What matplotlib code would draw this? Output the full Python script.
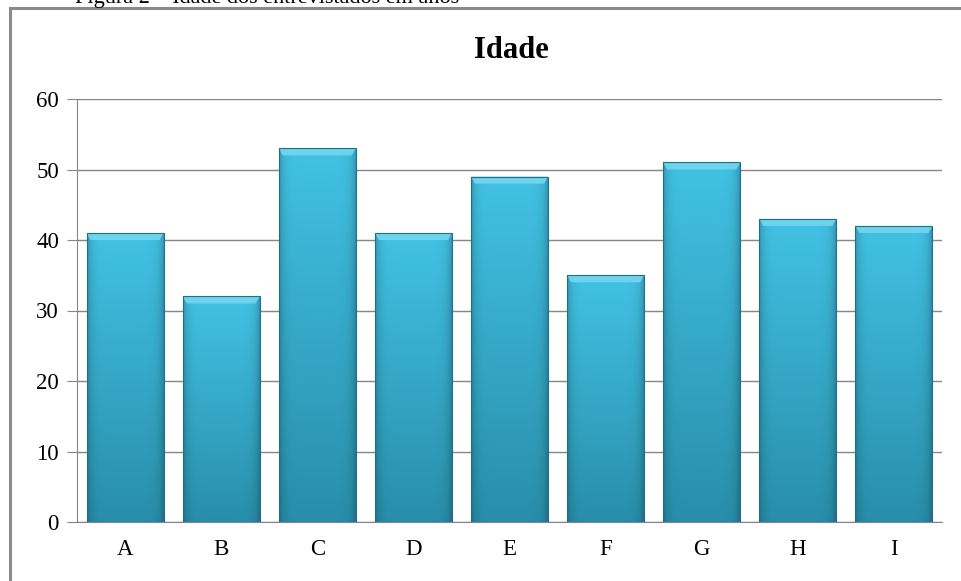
import numpy as np
import matplotlib.pyplot as plt
from matplotlib.patches import Rectangle, Polygon

categorias = ['A', 'B', 'C', 'D', 'E', 'F', 'G', 'H', 'I']
idades = [41, 32, 53, 41, 49, 35, 51, 43, 42]

plt.rcParams['font.family'] = ['Liberation Serif', 'DejaVu Serif']

fig = plt.figure(figsize=(9.62, 5.81), dpi=100)
ax = fig.add_axes([77 / 962, 1 - 522 / 581, (942 - 77) / 962, (522 - 99) / 581])

# moldura do grafico e legenda cortada acima
fig.patches.append(Rectangle((10 / 962, -0.05), 1.0, 1 - 8 / 581 + 0.05,
                             transform=fig.transFigure, fill=False,
                             edgecolor='#8a8a8a', linewidth=2.2))
fig.text(75 / 962, 1 - 3 / 581, 'Figura 2 – Idade dos entrevistados em anos',
         fontsize=16, va='baseline', ha='left', color='black')

x = np.arange(len(categorias))
largura = 0.8
barras = ax.bar(x, idades, width=largura, color='none', edgecolor='#1f6f85',
                linewidth=0.8, zorder=3)

# gradiente das barras
topo = np.array([0x42, 0xc2, 0xe4]) / 255
base = np.array([0x28, 0x8e, 0xaa]) / 255
ny, nx = 200, 60
t = np.linspace(0, 1, ny)[:, None, None]
u = np.linspace(-1, 1, nx)[None, :, None]
grad = topo * (1 - t) + base * t
sombra = 1 - 0.2 * np.abs(u) ** 8
img = np.clip(grad * sombra, 0, 1)

bev = 1.0
bw = 0.04
for b in barras:
    x0, w, h = b.get_x(), b.get_width(), b.get_height()
    im = ax.imshow(img, extent=[x0, x0 + w, 0, h], aspect='auto', zorder=2,
                   interpolation='bilinear')
    clip = Rectangle((x0, 0), w, h, transform=ax.transData)
    im.set_clip_path(clip)
    # chanfro no topo
    ax.add_patch(Polygon([(x0, h), (x0 + w, h), (x0 + w - bw, h - bev),
                          (x0 + bw, h - bev)], closed=True,
                         facecolor='#74d6f0', edgecolor='none', zorder=2.5,
                         alpha=0.9))

ax.set_xlim(-0.5, len(categorias) - 0.5)
ax.set_ylim(0, 60)
ax.set_yticks(range(0, 61, 10))
ax.set_xticks(x)
ax.set_xticklabels(categorias)
ax.grid(axis='y', color='#868686', linewidth=1.0, zorder=0)
ax.set_axisbelow(True)
for s in ['top', 'right']:
    ax.spines[s].set_visible(False)
ax.spines['left'].set_color('#868686')
ax.spines['bottom'].set_color('#868686')
ax.tick_params(axis='y', length=7, color='#868686', labelsize=16.5, pad=6)
ax.tick_params(axis='x', length=0, labelsize=16.5, pad=12)

fig.text(511 / 962, 1 - 50 / 581, 'Idade', fontsize=22, fontweight='bold',
         ha='center', va='center')

fig.savefig('out.png', dpi=100)
